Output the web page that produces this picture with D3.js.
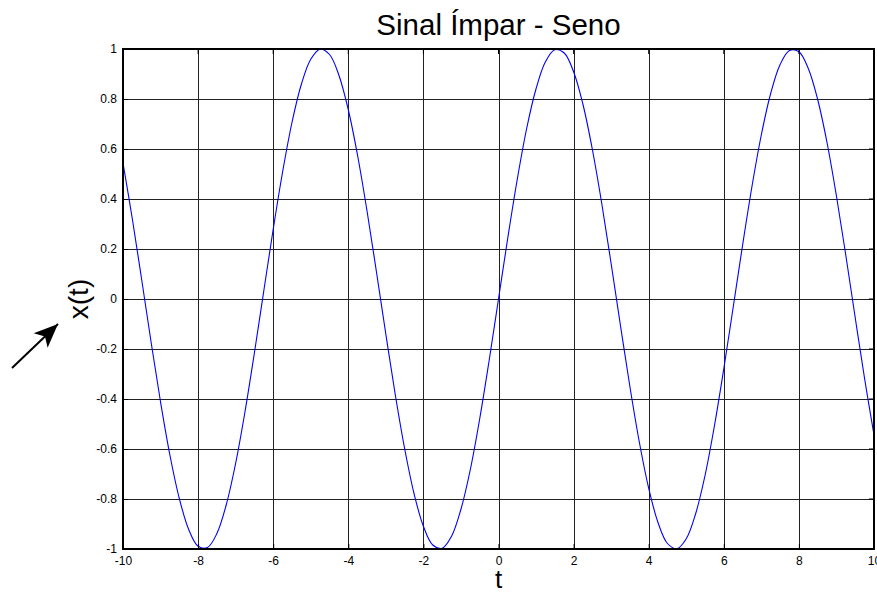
<!DOCTYPE html>
<html><head><meta charset="utf-8">
<script src="https://cdn.jsdelivr.net/npm/d3@7"></script>
<style>body{margin:0;background:#fff}svg{display:block}</style>
</head><body>
<svg id="c" width="877" height="595"></svg>
<script>
const tValues = [-10,-9.75,-9.5,-9.25,-9,-8.75,-8.5,-8.25,-8,-7.75,-7.5,-7.25,-7,-6.75,-6.5,-6.25,-6,-5.75,-5.5,-5.25,-5,-4.75,-4.5,-4.25,-4,-3.75,-3.5,-3.25,-3,-2.75,-2.5,-2.25,-2,-1.75,-1.5,-1.25,-1,-0.75,-0.5,-0.25,0,0.25,0.5,0.75,1,1.25,1.5,1.75,2,2.25,2.5,2.75,3,3.25,3.5,3.75,4,4.25,4.5,4.75,5,5.25,5.5,5.75,6,6.25,6.5,6.75,7,7.25,7.5,7.75,8,8.25,8.5,8.75,9,9.25,9.5,9.75,10];
const xValues = [0.544,0.319,0.075,-0.174,-0.412,-0.625,-0.798,-0.922,-0.989,-0.994,-0.938,-0.823,-0.657,-0.450,-0.215,0.033,0.279,0.508,0.706,0.859,0.959,0.999,0.978,0.895,0.757,0.572,0.351,0.108,-0.141,-0.382,-0.598,-0.778,-0.909,-0.984,-0.997,-0.949,-0.841,-0.682,-0.479,-0.247,0,0.247,0.479,0.682,0.841,0.949,0.997,0.984,0.909,0.778,0.598,0.382,0.141,-0.108,-0.351,-0.572,-0.757,-0.895,-0.978,-0.999,-0.959,-0.859,-0.706,-0.508,-0.279,-0.033,0.215,0.450,0.657,0.823,0.938,0.994,0.989,0.922,0.798,0.625,0.412,0.174,-0.075,-0.319,-0.544];
const xTicks = [-10,-8,-6,-4,-2,0,2,4,6,8,10];
const yTicks = [-1,-0.8,-0.6,-0.4,-0.2,0,0.2,0.4,0.6,0.8,1];
const titleText = "Sinal Ímpar - Seno";
const xLabel = "t";
const yLabel = "x(t)";

const svg = d3.select("#c");
const L=123, R=874, T=49, B=549;
const x = d3.scaleLinear().domain([-10,10]).range([L,R]);
const y = d3.scaleLinear().domain([-1,1]).range([B,T]);
const font = "'Liberation Sans', Arial, sans-serif";

// grid
const g = svg.append("g");
g.selectAll(".vg").data(xTicks).join("line")
  .attr("x1",d=>Math.round(x(d))+0.5).attr("x2",d=>Math.round(x(d))+0.5)
  .attr("y1",T).attr("y2",B).attr("stroke","#222").attr("stroke-width",1);
g.selectAll(".hg").data(yTicks).join("line")
  .attr("y1",d=>Math.round(y(d))+0.5).attr("y2",d=>Math.round(y(d))+0.5)
  .attr("x1",L).attr("x2",R).attr("stroke","#222").attr("stroke-width",1);

// line
const line = d3.line().x((d,i)=>x(tValues[i])).y(d=>y(d)).curve(d3.curveCatmullRom);
svg.append("path").datum(xValues).attr("d",line)
  .attr("fill","none").attr("stroke","#0000ff").attr("stroke-width",1.1);

// frame
svg.append("rect").attr("x",L).attr("y",T).attr("width",R-L).attr("height",B-T)
  .attr("fill","none").attr("stroke","#000").attr("stroke-width",2);

// axes with inner ticks
const xa = d3.axisBottom(x).tickValues(xTicks).tickSize(-5).tickPadding(10).tickFormat(d=>String(d));
const ya = d3.axisLeft(y).tickValues(yTicks).tickSize(-5).tickPadding(6).tickFormat(d=>String(d));
const gx = svg.append("g").attr("transform",`translate(0,${B})`).call(xa);
const gy = svg.append("g").attr("transform",`translate(${L},0)`).call(ya);
[gx,gy].forEach(a=>{a.select(".domain").remove();a.selectAll("text").attr("font-family",font).attr("font-size",12).attr("fill","#000");a.selectAll("line").attr("stroke","#000");});
gx.selectAll("text").attr("dy","0.35em").attr("y",12);
// top & right inner ticks
svg.append("g").selectAll("line").data(xTicks).join("line")
  .attr("x1",d=>x(d)).attr("x2",d=>x(d)).attr("y1",T).attr("y2",T+5).attr("stroke","#000");
svg.append("g").selectAll("line").data(yTicks).join("line")
  .attr("y1",d=>y(d)).attr("y2",d=>y(d)).attr("x1",R).attr("x2",R-5).attr("stroke","#000");

// title & labels
svg.append("text").attr("x",(L+R)/2).attr("y",35).attr("text-anchor","middle")
  .attr("font-family",font).attr("font-size",29.5).text(titleText);
svg.append("text").attr("x",(L+R)/2).attr("y",588).attr("text-anchor","middle")
  .attr("font-family",font).attr("font-size",26).text(xLabel);
svg.append("text").attr("transform",`translate(88,${(T+B)/2}) rotate(-90)`).attr("text-anchor","middle")
  .attr("font-family",font).attr("font-size",28).text(yLabel);

// arrow
svg.append("defs").append("marker").attr("id","ah").attr("viewBox","0 0 10 10")
  .attr("refX",10).attr("refY",5).attr("markerWidth",24).attr("markerHeight",24)
  .attr("markerUnits","userSpaceOnUse").attr("orient","auto")
  .append("path").attr("d","M0,0.8 L10,5 L0,9.2 L2.5,5 Z").attr("fill","#000");
svg.append("line").attr("x1",12).attr("y1",368).attr("x2",58).attr("y2",324)
  .attr("stroke","#000").attr("stroke-width",2).attr("marker-end","url(#ah)");
</script>
</body></html>
